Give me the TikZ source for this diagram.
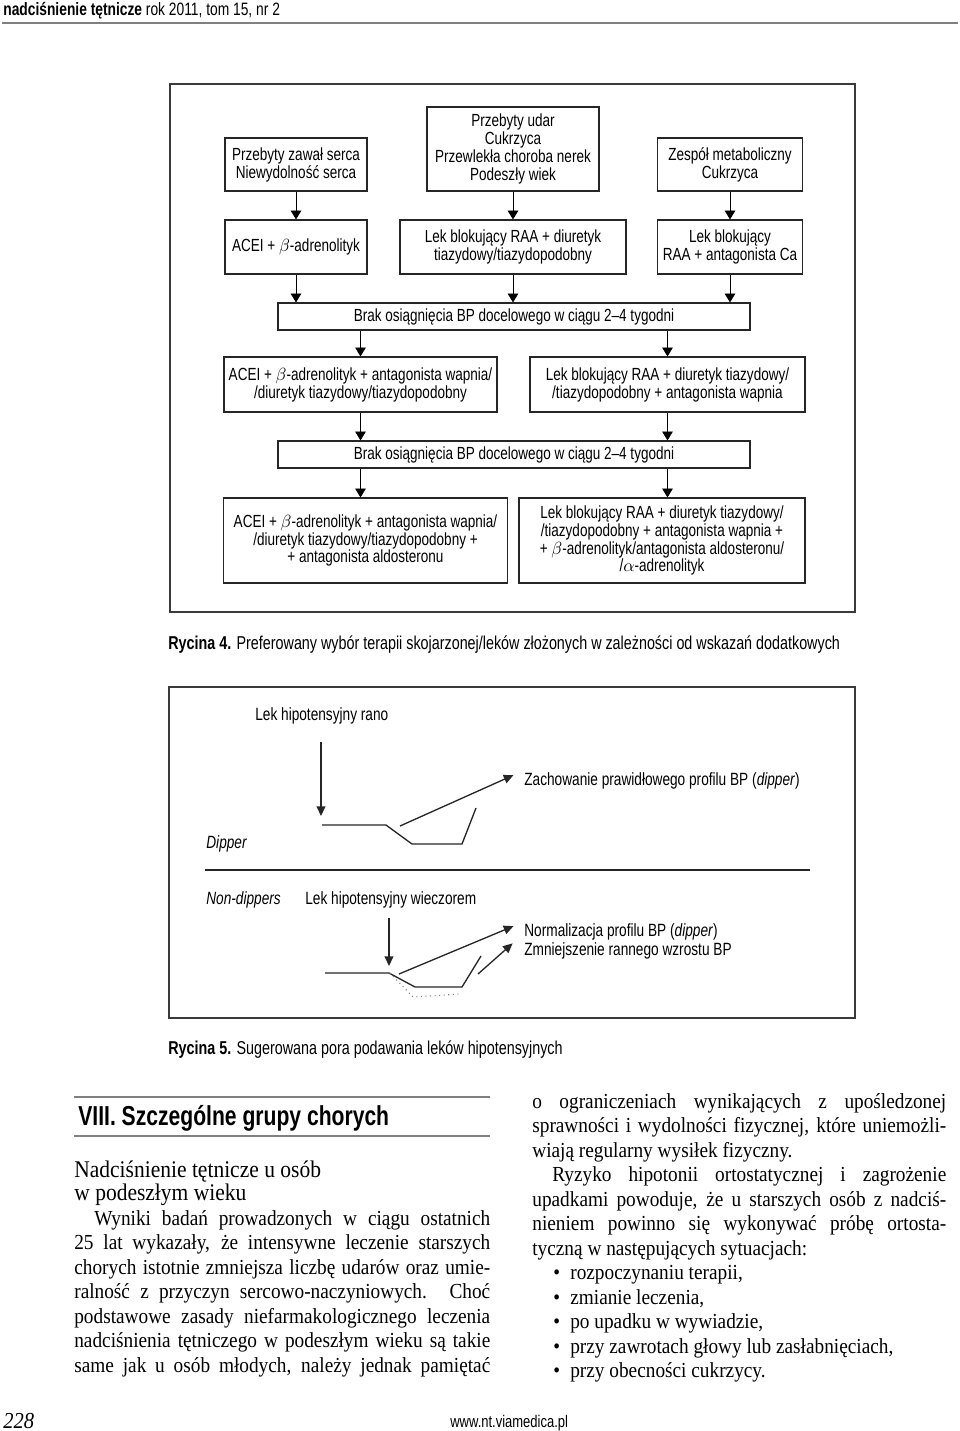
\documentclass[tikz,border=0pt]{standalone}
\usepackage{fontspec}
\setmainfont{Liberation Serif}
\newfontfamily\cond[FakeStretch=0.77]{Liberation Sans}
\newfontfamily\serifc[FakeStretch=0.9]{Liberation Serif}
\usetikzlibrary{arrows.meta}
\definecolor{rulegray}{HTML}{808080}
\definecolor{framegray}{HTML}{3A3A3A}
\tikzset{
  box/.style={draw=black!85, line width=.7pt, align=center, inner sep=0pt,
    font=\cond\fontsize{10}{10.2}\selectfont},
  lbl/.style={anchor=base west, inner sep=0pt, font=\cond\fontsize{10.1}{11}\selectfont},
  capt/.style={anchor=base west, inner sep=0pt, font=\cond\fontsize{10.6}{12}\selectfont},
  body/.style={anchor=base west, inner sep=0pt, font=\serifc\fontsize{12.2}{14}\selectfont},
  curve/.style={line width=.75pt, black!85},
}
\newcommand{\jl}[2]{\makebox[#1][s]{#2}}

\begin{document}
\begin{tikzpicture}[x=0.02cm, y=-0.02cm, >={Triangle[length=5pt,width=6pt]}]
  \useasboundingbox (0,0) rectangle (960,1431);
  \fill[white] (0,0) rectangle (960,1431);

  % page header
  \node[anchor=base west, inner sep=0pt, font=\cond\fontsize{10.2}{12}\selectfont]
    (hdr) at (3,15) {\textbf{nadciśnienie tętnicze} rok 2011, tom 15, nr 2};
  \draw[rulegray, line width=.8pt] (2,23) -- (958,23);

  % Rycina 4
  \draw[framegray, line width=1pt] (170,84) rectangle (855,612);
  \node[box, minimum width=2.84cm, minimum height=1.06cm]
    (zawal) at (296,164.5) {Przebyty zawał serca\\Niewydolność serca};
  \node[box, minimum width=3.44cm, minimum height=1.68cm]
    (udar) at (513,149) {Przebyty udar\\Cukrzyca\\Przewlekła choroba nerek\\Podeszły wiek};
  \node[box, minimum width=2.9cm, minimum height=1.06cm]
    (metab) at (730,164.5) {Zespół metaboliczny\\Cukrzyca};
  \node[box, minimum width=2.84cm, minimum height=1.08cm]
    (acei) at (296,247) {ACEI + $\beta$-adrenolityk};
  \node[box, minimum width=4.52cm, minimum height=1.08cm]
    (raadiur) at (513,247) {Lek blokujący RAA + diuretyk\\tiazydowy/tiazydopodobny};
  \node[box, minimum width=2.9cm, minimum height=1.08cm]
    (raaca) at (730,247) {Lek blokujący\\RAA + antagonista Ca};
  \node[box, minimum width=9.44cm, minimum height=0.54cm]
    (brakA) at (514,316.5) {Brak osiągnięcia BP docelowego w ciągu 2–4 tygodni};
  \node[box, minimum width=5.46cm, minimum height=1.1cm]
    (aceiB) at (360.5,384.5) {ACEI + $\beta$-adrenolityk + antagonista wapnia/\\/diuretyk tiazydowy/tiazydopodobny};
  \node[box, minimum width=5.5cm, minimum height=1.1cm]
    (raaB) at (667.5,384.5) {Lek blokujący RAA + diuretyk tiazydowy/\\/tiazydopodobny + antagonista wapnia};
  \node[box, minimum width=9.44cm, minimum height=0.54cm]
    (brakB) at (514,454.5) {Brak osiągnięcia BP docelowego w ciągu 2–4 tygodni};
  \node[box, minimum width=5.68cm, minimum height=1.7cm]
    (aceiC) at (365.5,540.5) {ACEI + $\beta$-adrenolityk + antagonista wapnia/\\/diuretyk tiazydowy/tiazydopodobny +\\+ antagonista aldosteronu};
  \node[box, minimum width=5.72cm, minimum height=1.7cm]
    (raaC) at (662,540.5) {Lek blokujący RAA + diuretyk tiazydowy/\\/tiazydopodobny + antagonista wapnia +\\+ $\beta$-adrenolityk/antagonista aldosteronu/\\/$\alpha$-adrenolityk};
  \draw[->] (zawal) -- (acei);
  \draw[->] (udar) -- (raadiur);
  \draw[->] (metab) -- (raaca);
  \draw[->] (acei) -- (acei |- brakA.north);
  \draw[->] (raadiur) -- (raadiur |- brakA.north);
  \draw[->] (raaca) -- (raaca |- brakA.north);
  \draw[->] (brakA.south -| aceiB) -- (aceiB);
  \draw[->] (brakA.south -| raaB) -- (raaB);
  \draw[->] (aceiB) -- (aceiB |- brakB.north);
  \draw[->] (raaB) -- (raaB |- brakB.north);
  \draw[->] (brakB.south -| aceiB) -- (aceiB |- aceiC.north);
  \draw[->] (brakB.south -| raaB) -- (raaB |- raaC.north);
  \node[capt] (cap4) at (168,649) {\textbf{Rycina 4.} Preferowany wybór terapii skojarzonej/leków złożonych w zależności od wskazań dodatkowych};

  % Rycina 5
  \draw[framegray, line width=1pt] (169,687) rectangle (855,1018);
  \node[lbl] (rano) at (255,720) {Lek hipotensyjny rano};
  \node[lbl] (zach) at (524,785) {Zachowanie prawidłowego profilu BP (\textit{dipper})};
  \node[lbl] (dip) at (206,848) {\textit{Dipper}};
  \draw[black!85, line width=.9pt] (205,870) -- (810,870);
  \node[lbl] (nondip) at (206,904) {\textit{Non-dippers}};
  \node[lbl] (wiecz) at (305,904) {Lek hipotensyjny wieczorem};
  \node[lbl] (norm) at (524,936) {Normalizacja profilu BP (\textit{dipper})};
  \node[lbl] (zmn) at (524,955) {Zmniejszenie rannego wzrostu BP};
  \coordinate (dtip) at (321,816);
  \coordinate (dstart) at (400,826);
  \coordinate (ntip) at (389,966);
  \coordinate (nstart) at (399,974);
  \coordinate (mstart) at (478,974);
  \draw[curve] (322,825) -- (386,825) -- (412,844) -- (462,844) -- (476,808);
  \draw[curve] (325,973) -- (389,973) -- (415,987) -- (462,987) -- (481,956);
  \draw[gray, line width=.6pt, dotted] (390,973) -- (413,997) -- (460,994);
  \begin{scope}[>={Triangle[length=5.5pt,width=5pt]}, curve]
    \draw[->] (321,742) -- (dtip);
    \draw[->] (dstart) -- ([xshift=-6pt,yshift=3pt]zach.west);
    \draw[->] (389,918) -- (ntip);
    \draw[->] (nstart) -- ([xshift=-6pt,yshift=3pt]norm.west);
    \draw[->] (mstart) -- ([xshift=-6.5pt,yshift=4pt]zmn.west);
  \end{scope}
  \node[capt] (cap5) at (168,1054) {\textbf{Rycina 5.} Sugerowana pora podawania leków hipotensyjnych};

  % text columns
  \draw[rulegray, line width=1pt] (74,1097) -- (490,1097);
  \draw[rulegray, line width=1pt] (74,1136) -- (490,1136);
  \node[anchor=base west, inner sep=0pt, font=\cond\bfseries\fontsize{15.6}{17}\selectfont]
    (sect) at (78,1125) {VIII. Szczególne grupy chorych};
  \node[body, font=\serifc\fontsize{13.6}{15}\selectfont] (sub1) at (74,1177) {Nadciśnienie tętnicze u osób};
  \node[body, font=\serifc\fontsize{13.6}{15}\selectfont] (sub2) at (74,1200) {w podeszłym wieku};
  \node[body] (la) at (94,1225) {\jl{7.92cm}{Wyniki badań prowadzonych w ciągu ostatnich}};
  \node[body] (lb) at (74,1249.5) {\jl{8.32cm}{25 lat wykazały, że intensywne leczenie starszych}};
  \node[body] (lc) at (74,1274) {\jl{8.32cm}{chorych istotnie zmniejsza liczbę udarów oraz umie-}};
  \node[body] (ld) at (74,1298.5) {\jl{8.32cm}{ralność z przyczyn sercowo-naczyniowych. Choć}};
  \node[body] (le) at (74,1323) {\jl{8.32cm}{podstawowe zasady niefarmakologicznego leczenia}};
  \node[body] (lf) at (74,1347.5) {\jl{8.32cm}{nadciśnienia tętniczego w podeszłym wieku są takie}};
  \node[body] (lg) at (74,1372) {\jl{8.32cm}{same jak u osób młodych, należy jednak pamiętać}};

  \node[body] (ra) at (532,1108) {\jl{8.28cm}{o ograniczeniach wynikających z upośledzonej}};
  \node[body] (rb) at (532,1132.5) {\jl{8.28cm}{sprawności i wydolności fizycznej, które uniemożli-}};
  \node[body] (rc) at (532,1157) {wiają regularny wysiłek fizyczny.};
  \node[body] (rd) at (552,1181.5) {\jl{7.88cm}{Ryzyko hipotonii ortostatycznej i zagrożenie}};
  \node[body] (re) at (532,1206) {\jl{8.28cm}{upadkami powoduje, że u starszych osób z nadciś-}};
  \node[body] (rf) at (532,1230.5) {\jl{8.28cm}{nieniem powinno się wykonywać próbę ortosta-}};
  \node[body] (rg) at (532,1255) {tyczną w następujących sytuacjach:};
  \node[body] (rh) at (553,1279.5) {\makebox[0.34cm][l]{\textbullet}rozpoczynaniu terapii,};
  \node[body] (ri) at (553,1304) {\makebox[0.34cm][l]{\textbullet}zmianie leczenia,};
  \node[body] (rj) at (553,1328.5) {\makebox[0.34cm][l]{\textbullet}po upadku w wywiadzie,};
  \node[body] (rk) at (553,1353) {\makebox[0.34cm][l]{\textbullet}przy zawrotach głowy lub zasłabnięciach,};
  \node[body] (rl) at (553,1377.5) {\makebox[0.34cm][l]{\textbullet}przy obecności cukrzycy.};

  % footer
  \node[anchor=base west, inner sep=0pt, font=\serifc\itshape\fontsize{13}{15}\selectfont]
    (pg) at (3,1428) {228};
  \node[anchor=base west, inner sep=0pt, font=\cond\fontsize{9.6}{11}\selectfont]
    (www) at (450,1427) {www.nt.viamedica.pl};
\end{tikzpicture}
\end{document}
